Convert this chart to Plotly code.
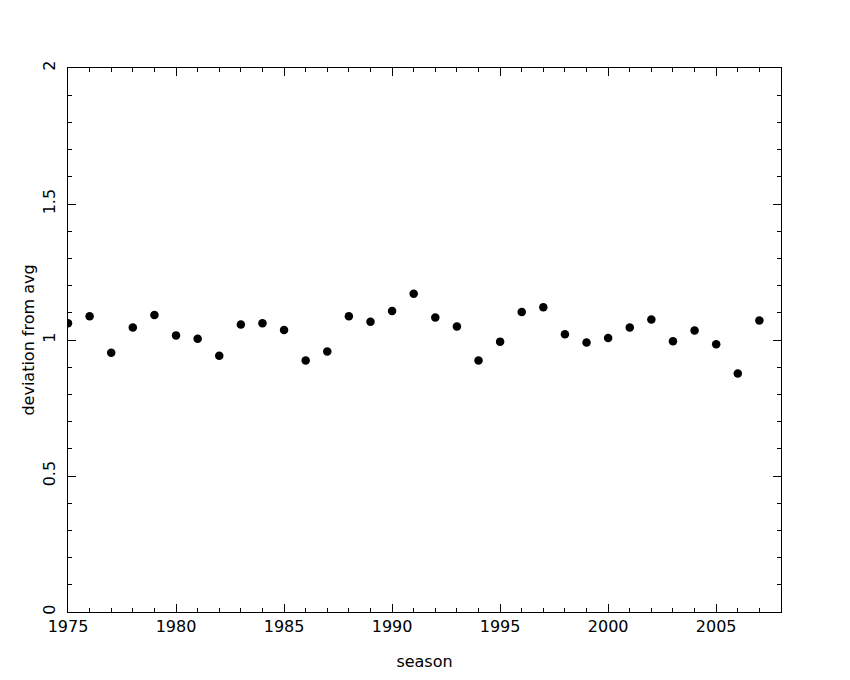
import plotly.graph_objects as go

seasons = list(range(1975, 2008))
deviation = [1.062, 1.087, 0.953, 1.046, 1.092, 1.017, 1.005, 0.942, 1.057, 1.062,
             1.037, 0.925, 0.958, 1.087, 1.067, 1.107, 1.170, 1.083, 1.050, 0.925,
             0.994, 1.103, 1.120, 1.021, 0.991, 1.007, 1.046, 1.075, 0.995, 1.035,
             0.984, 0.877, 1.072]

x_ticks = [1975, 1980, 1985, 1990, 1995, 2000, 2005]
y_ticks = [0, 0.5, 1, 1.5, 2]
y_tick_labels = ["0", "0.5", "1", "1.5", "2"]

font = "DejaVu Sans"

fig = go.Figure(go.Scatter(
    x=seasons, y=deviation, mode="markers",
    marker=dict(color="black", size=8.5),
))

axis_common = dict(
    showgrid=False, zeroline=False, showline=True, linecolor="black", linewidth=1,
    mirror="allticks", ticks="inside", ticklen=8, tickwidth=1, tickcolor="black",
    tickfont=dict(family=font, size=16, color="black"),
)

fig.update_layout(
    width=850, height=680,
    margin=dict(l=60, r=77, t=60, b=76),
    paper_bgcolor="white", plot_bgcolor="white",
    showlegend=False,
    font=dict(family=font, color="black"),
    xaxis=dict(
        range=[1975, 2008], tickvals=x_ticks,
        minor=dict(dtick=1, ticks="inside", ticklen=4, tickcolor="black", showgrid=False),
        title=dict(text="season", font=dict(family=font, size=16), standoff=20),
        automargin=False,
        **axis_common,
    ),
    yaxis=dict(
        range=[0, 2], tickvals=y_ticks, ticktext=y_tick_labels, tickangle=-90,
        minor=dict(dtick=0.1, ticks="inside", ticklen=4, tickcolor="black", showgrid=False),
        title=dict(text="deviation from avg", font=dict(family=font, size=16), standoff=0),
        ticklabelstandoff=6,
        automargin=False,
        **axis_common,
    ),
)

fig.write_html("out.html")
